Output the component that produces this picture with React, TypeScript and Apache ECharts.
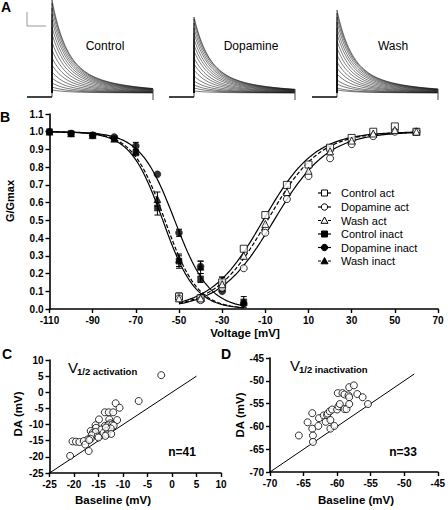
import React, { useEffect, useRef } from "react";
import * as echarts from "echarts";

const FONT = '"Liberation Sans", Arial, sans-serif';

// ---------- Panel A: current traces (peak amplitudes, decay model parameters) ----------
const tracePanels = ["Control", "Dopamine", "Wash"];
const controlPeaks = [3, 6, 10, 15, 21, 28, 35, 43, 51, 59, 66, 73, 79, 85, 90, 93];
const dopaminePeaks = [2, 5, 8, 12, 17, 23, 29, 35, 42, 48, 54, 60, 65, 70, 74, 76];
const washPeaks = [3, 5, 9, 13, 19, 25, 31, 38, 45, 52, 59, 65, 71, 76, 80, 83];
const stepTime = 25;
const endTime = 126;
const holdLevel = -4;
const fastTau = 14;
const slowTau = 55;
const fastFraction = 0.7;

// ---------- Panel B: G/Gmax ----------
const voltAct = [-50, -40, -30, -20, -10, 0, 10, 20, 30, 40, 50, 60];
const controlAct = [0.07, 0.06, 0.15, 0.34, 0.53, 0.7, 0.815, 0.91, 0.965, 1.0, 1.03, 1.0];
const dopamineAct = [0.06, 0.05, 0.12, 0.23, 0.43, 0.62, 0.75, 0.85, 0.93, 0.975, 1.0, 1.0];
const washAct = [0.06, 0.06, 0.14, 0.3, 0.48, 0.66, 0.78, 0.89, 0.95, 0.99, 1.01, 1.0];

const voltInact = [-110, -100, -90, -80, -70, -60, -50, -40, -30, -20];
const controlInact = [1.0, 0.99, 0.98, 0.96, 0.88, 0.57, 0.27, 0.17, 0.14, 0.04];
const dopamineInact = [1.0, 0.99, 0.98, 0.97, 0.92, 0.76, 0.43, 0.24, 0.1, 0.03];
const washInact = [1.0, 0.99, 0.98, 0.96, 0.89, 0.62, 0.28, 0.24, 0.12, 0.04];

// Boltzmann fit parameters [control, dopamine, wash]
const actV50 = [-11, -6, -9];
const actSlope = [12, 12.5, 12];
const inactV50 = [-57.5, -52, -56.5];
const inactSlope = [7.5, 8, 7.5];

// error bars: [V, low, high]
const errorBars = [
  [-60, 0.58, 0.66], [-50, 0.23, 0.31], [-40, 0.2, 0.27],
  [-60, 0.53, 0.6], [-50, 0.24, 0.3], [-40, 0.15, 0.2], [-30, 0.11, 0.18], [-20, 0.01, 0.07],
  [-70, 0.9, 0.94], [-50, 0.41, 0.45], [-40, 0.22, 0.27],
  [-50, 0.05, 0.09], [-40, 0.04, 0.08], [-30, 0.12, 0.18],
];

const legendNames = ["Control act", "Dopamine act", "Wash act", "Control inact", "Dopamine inact", "Wash inact"];

// ---------- Panel C ----------
const cBaseline = [-2.2, -6.8, -11.5, -10.7, -13.7, -12.9, -12.0, -14.9, -12.8, -11.2, -12.6, -15.6, -13.7, -13.0, -12.2, -11.9, -15.5, -14.4, -13.1, -12.5, -16.6, -16.2, -15.6, -14.0, -13.3, -12.4, -16.4, -15.2, -13.6, -17.2, -16.6, -15.0, -20.3, -19.6, -18.9, -18.0, -17.7, -17.0, -20.8, -16.9, -13.5];
const cDA = [5.3, -2.7, -3.4, -4.8, -6.2, -6.2, -6.2, -8.4, -8.4, -8.6, -9.6, -10.2, -10.4, -10.2, -10.0, -10.3, -11.0, -11.5, -11.8, -11.2, -12.0, -12.6, -12.3, -12.6, -13.0, -12.9, -13.3, -13.7, -13.5, -14.6, -14.4, -14.0, -15.2, -15.3, -15.4, -15.1, -16.2, -18.2, -19.7, -14.8, -10.9];
const cIdentity = [-25, 5];

// ---------- Panel D ----------
const dBaseline = [-65.7, -64.4, -63.7, -63.7, -63.6, -63.6, -62.8, -62.7, -62.0, -61.5, -61.7, -61.4, -61.1, -61.0, -61.0, -60.75, -60.4, -60.0, -59.9, -59.8, -59.6, -59.2, -58.9, -58.9, -58.6, -58.3, -58.2, -58.2, -58.2, -57.5, -57.0, -56.2, -55.4];
const dDA = [-62.0, -59.1, -57.1, -60.5, -62.0, -63.4, -59.9, -58.2, -57.6, -57.5, -59.0, -57.2, -56.7, -58.6, -60.5, -56.3, -59.9, -56.3, -52.7, -55.6, -55.1, -52.7, -53.0, -56.2, -56.2, -53.2, -51.4, -53.6, -55.1, -51.0, -52.9, -53.6, -55.1];
const dIdentity = [-70, -48.5];

function traceSeries(peaks: number[], gi: number) {
  const s: any[] = [];
  s.push({
    type: "line", xAxisIndex: gi, yAxisIndex: gi, showSymbol: false, silent: true,
    data: [[0, holdLevel], [stepTime, holdLevel]],
    lineStyle: { color: "#444", width: 2 },
  });
  peaks.forEach((a) => {
    const d: number[][] = [[stepTime, 0], [stepTime, a]];
    for (let t = stepTime + 1; t <= endTime; t++) {
      const dt = t - stepTime;
      d.push([t, a * (fastFraction * Math.exp(-dt / fastTau) + (1 - fastFraction) * Math.exp(-dt / slowTau))]);
    }
    s.push({
      type: "line", xAxisIndex: gi, yAxisIndex: gi, showSymbol: false, silent: true,
      data: d, lineStyle: { color: "#111", width: 0.55 },
    });
  });
  s.push({
    type: "line", xAxisIndex: gi, yAxisIndex: gi, showSymbol: false, silent: true,
    data: [[stepTime, holdLevel], [stepTime, 0]], lineStyle: { color: "#111", width: 0.8 },
  });
  s.push({
    type: "line", xAxisIndex: gi, yAxisIndex: gi, showSymbol: false, silent: true,
    data: [[endTime, -7], [endTime, 4]], lineStyle: { color: "#444", width: 1 },
  });
  return s;
}

function range(a: number, b: number, step: number) {
  const r: number[] = [];
  for (let v = a; v <= b + 1e-9; v += step) r.push(v);
  return r;
}

function axis(gridIndex: number, min: number, max: number, interval: number, fmt?: any) {
  return {
    type: "value", gridIndex, min, max, interval,
    axisLine: { show: true, onZero: false, lineStyle: { color: "#000", width: 1.6 } },
    axisTick: { show: true, length: 4, lineStyle: { color: "#000", width: 1.4 } },
    axisLabel: {
      color: "#000", fontFamily: FONT, fontWeight: "bold", fontSize: 10, margin: 6,
      showMinLabel: true, showMaxLabel: true, formatter: fmt,
    },
    splitLine: { show: false },
  };
}

function hiddenAxis(gridIndex: number, min: number, max: number) {
  return { type: "value", gridIndex, min, max, show: false, splitLine: { show: false } };
}

function txt(x: number, y: number, text: string, size: number, opts: any = {}) {
  return {
    type: "text", x, y, rotation: opts.rotation || 0, silent: true,
    style: {
      text, fontSize: size, fontFamily: FONT, fontWeight: opts.bold ? "bold" : "normal",
      fill: "#000", align: opts.align || "center", verticalAlign: "middle",
    },
  };
}

export default function App() {
  const ref = useRef<HTMLDivElement>(null);
  useEffect(() => {
    if (!ref.current) return;
    const chart = echarts.init(ref.current, undefined, { renderer: "svg" });

    const zipXY = (xs: number[], ys: number[]) => xs.map((x, i) => [x, ys[i]]);
    const actCurve = (k: number) => range(-50, 60, 1).map((v) => [v, 1 / (1 + Math.exp((actV50[k] - v) / actSlope[k]))]);
    const inactCurve = (k: number) => range(-110, -20, 1).map((v) => [v, 1 / (1 + Math.exp((v - inactV50[k]) / inactSlope[k]))]);

    const B = 3;
    const lineS = (data: number[][], dashed: boolean) => ({
      type: "line", xAxisIndex: B, yAxisIndex: B, showSymbol: false, silent: true, data, z: 2,
      lineStyle: { color: "#000", width: 1.2, type: dashed ? [4, 2] : "solid" },
    });
    const open = { color: "#fff", borderColor: "#000", borderWidth: 1 };
    const filled = { color: "#000", borderColor: "#000", borderWidth: 0.5 };
    const scat = (name: string, data: number[][], symbol: string, style: any, size: number, gi = B) => ({
      type: "scatter", name, xAxisIndex: gi, yAxisIndex: gi, data, symbol, symbolSize: size, z: 4,
      itemStyle: style, silent: true,
    });

    const series: any[] = [
      ...traceSeries(controlPeaks, 0),
      ...traceSeries(dopaminePeaks, 1),
      ...traceSeries(washPeaks, 2),
      lineS(actCurve(0), false), lineS(actCurve(1), false), lineS(actCurve(2), true),
      lineS(inactCurve(0), false), lineS(inactCurve(1), false), lineS(inactCurve(2), true),
      {
        type: "custom", xAxisIndex: B, yAxisIndex: B, data: errorBars, encode: { x: 0, y: [1, 2] }, z: 3, silent: true,
        renderItem: (params: any, api: any) => {
          const x = api.value(0);
          const p1 = api.coord([x, api.value(1)]);
          const p2 = api.coord([x, api.value(2)]);
          const w = 3;
          const st = { stroke: "#000", lineWidth: 1 };
          return {
            type: "group",
            children: [
              { type: "line", shape: { x1: p1[0], y1: p1[1], x2: p2[0], y2: p2[1] }, style: st },
              { type: "line", shape: { x1: p1[0] - w, y1: p1[1], x2: p1[0] + w, y2: p1[1] }, style: st },
              { type: "line", shape: { x1: p2[0] - w, y1: p2[1], x2: p2[0] + w, y2: p2[1] }, style: st },
            ],
          };
        },
      },
      scat(legendNames[3], zipXY(voltInact, controlInact), "rect", filled, 6),
      scat(legendNames[4], zipXY(voltInact, dopamineInact), "circle", filled, 7),
      scat(legendNames[5], zipXY(voltInact, washInact), "triangle", filled, 7),
      scat(legendNames[0], zipXY(voltAct, controlAct), "rect", open, 7),
      scat(legendNames[1], zipXY(voltAct, dopamineAct), "circle", open, 7),
      scat(legendNames[2], zipXY(voltAct, washAct), "triangle", open, 7),
      {
        type: "line", xAxisIndex: 4, yAxisIndex: 4, showSymbol: false, silent: true,
        data: [[cIdentity[0], cIdentity[0]], [cIdentity[1], cIdentity[1]]], lineStyle: { color: "#000", width: 1 },
      },
      scat("C", zipXY(cBaseline, cDA), "circle", open, 7, 4),
      {
        type: "line", xAxisIndex: 5, yAxisIndex: 5, showSymbol: false, silent: true,
        data: [[dIdentity[0], dIdentity[0]], [dIdentity[1], dIdentity[1]]], lineStyle: { color: "#000", width: 1 },
      },
      scat("D", zipXY(dBaseline, dDA), "circle", open, 7, 5),
    ];

    // legend graphics
    const legendRows = [193, 207, 220.5, 234, 247.5, 261];
    const legendGraphics: any[] = [];
    legendRows.forEach((y, i) => {
      const dashed = i === 2 || i === 5;
      const isOpen = i < 3;
      const fill = isOpen ? "#fff" : "#000";
      legendGraphics.push({
        type: "line", shape: { x1: 318, y1: y, x2: 331, y2: y }, silent: true,
        style: { stroke: "#000", lineWidth: 1.2, lineDash: dashed ? [3, 2] : null },
      });
      const k = i % 3;
      if (k === 0) {
        legendGraphics.push({ type: "rect", shape: { x: 321.5, y: y - 3, width: 6, height: 6 }, silent: true, style: { fill, stroke: "#000", lineWidth: 1 } });
      } else if (k === 1) {
        legendGraphics.push({ type: "circle", shape: { cx: 324.5, cy: y, r: 3.2 }, silent: true, style: { fill, stroke: "#000", lineWidth: 1 } });
      } else {
        legendGraphics.push({ type: "polygon", shape: { points: [[324.5, y - 3.5], [321, y + 2.8], [328, y + 2.8]] }, silent: true, style: { fill, stroke: "#000", lineWidth: 1 } });
      }
      legendGraphics.push(txt(341, y, legendNames[i], 11, { align: "left" }));
    });

    const graphic: any[] = [
      txt(1, 7, "A", 14, { bold: true, align: "left" }),
      txt(0, 117, "B", 14, { bold: true, align: "left" }),
      txt(2, 354, "C", 14, { bold: true, align: "left" }),
      txt(221, 354, "D", 14, { bold: true, align: "left" }),
      txt(105, 46, tracePanels[0], 12),
      txt(251, 46, tracePanels[1], 12),
      txt(393, 46, tracePanels[2], 12),
      {
        type: "polyline", silent: true,
        shape: { points: [[27, 12], [27, 26], [46, 26]] },
        style: { stroke: "#999", lineWidth: 1, fill: null },
      },
      txt(245, 333, "Voltage [mV]", 11.5, { bold: true }),
      txt(10, 201, "G/Gmax", 11, { bold: true, rotation: Math.PI / 2 }),
      txt(18, 414, "DA (mV)", 11.5, { bold: true, rotation: Math.PI / 2 }),
      txt(240, 415, "DA (mV)", 11.5, { bold: true, rotation: Math.PI / 2 }),
      txt(113, 500, "Baseline (mV)", 11.5, { bold: true }),
      txt(356, 500, "Baseline (mV)", 11.5, { bold: true }),
      txt(68, 367, "V", 15, { align: "left" }),
      txt(77, 371, "1/2 activation", 9.5, { bold: true, align: "left" }),
      txt(290, 365, "V", 15, { align: "left" }),
      txt(299, 369, "1/2 inactivation", 9.5, { bold: true, align: "left" }),
      txt(182, 452, "n=41", 12, { bold: true }),
      txt(403, 452, "n=33", 12, { bold: true }),
      ...legendGraphics,
    ];

    const option: any = {
      animation: false,
      backgroundColor: "#fff",
      grid: [
        { left: 27, top: 0, width: 128, height: 100 },
        { left: 169, top: 0, width: 128, height: 100 },
        { left: 312, top: 0, width: 128, height: 100 },
        { left: 49.5, top: 114, width: 388.5, height: 195 },
        { left: 49.5, top: 360, width: 171.5, height: 113 },
        { left: 270, top: 358, width: 172.5, height: 114 },
      ],
      xAxis: [
        hiddenAxis(0, 0, 128), hiddenAxis(1, 0, 128), hiddenAxis(2, 0, 128),
        axis(3, -110, 70, 20),
        axis(4, -25, 10, 5),
        axis(5, -70, -45, 5),
      ],
      yAxis: [
        hiddenAxis(0, -7, 93), hiddenAxis(1, -7, 93), hiddenAxis(2, -7, 93),
        axis(3, 0, 1.1, 0.1, (v: number) => v.toFixed(1)),
        axis(4, -25, 10, 5),
        axis(5, -70, -45, 5),
      ],
      series,
      graphic,
    };
    chart.setOption(option);
    return () => chart.dispose();
  }, []);

  return (
    <div
      ref={ref}
      style={{ position: "absolute", left: 0, top: 0, width: 448, height: 510, background: "#fff" }}
    />
  );
}
